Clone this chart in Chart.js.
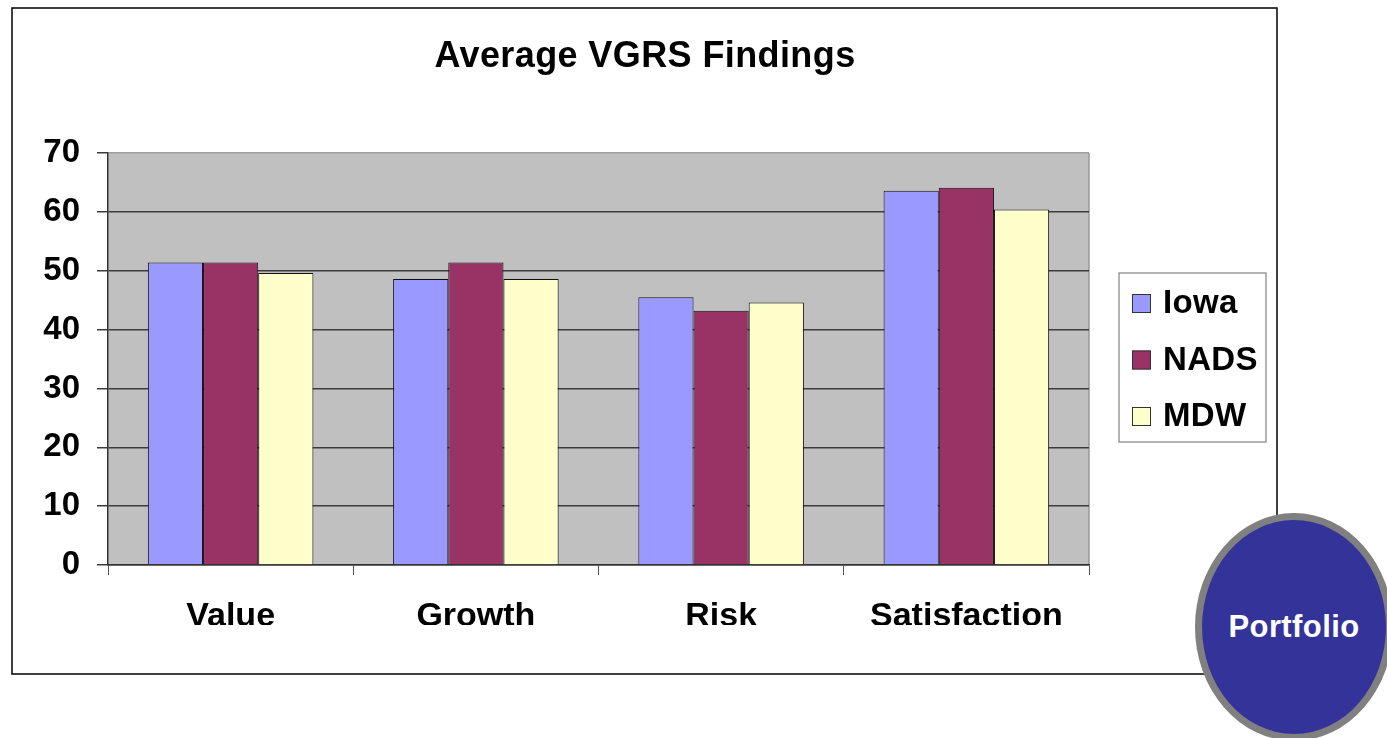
<!DOCTYPE html>
<html>
<head>
<meta charset="utf-8">
<title>Average VGRS Findings</title>
<script src="https://cdn.jsdelivr.net/npm/chart.js@4.4.1/dist/chart.umd.min.js"></script>
<style>
  html, body { margin: 0; padding: 0; background: #fff; }
  #wrap { position: relative; width: 1387px; height: 738px; overflow: hidden; }
  #chart { position: absolute; left: 0; top: 0; }
  #portfolio {
    position: absolute; left: 1195px; top: 513px; width: 198px; height: 228px;
    box-sizing: border-box; border: 7px solid #808080; border-radius: 50%;
    background: #333399; color: #fff;
    font: bold 31px "Liberation Sans", Arial, sans-serif; letter-spacing: 0.4px;
    display: flex; align-items: center; justify-content: center;
  }
</style>
</head>
<body>
<div id="wrap">
  <canvas id="chart" width="1387" height="738"></canvas>
  <div id="portfolio">Portfolio</div>
</div>
<script>
const categories = ["Value", "Growth", "Risk", "Satisfaction"];
const seriesNames = ["Iowa", "NADS", "MDW"];
const iowa = [51.4, 48.6, 45.5, 63.6];
const nads = [51.4, 51.4, 43.2, 64.1];
const mdw = [49.6, 48.6, 44.6, 60.4];
const yMin = 0, yMax = 70, yStep = 10;

const FONT = '"Liberation Sans", Arial, sans-serif';
const colors = ["#9999FF", "#993366", "#FFFFCC"];

// plot background, outer frame, title and legend box
const decor = {
  id: "decor",
  beforeDraw(chart) {
    const { ctx, chartArea: a } = chart;
    ctx.save();
    ctx.fillStyle = "#c0c0c0";
    ctx.fillRect(a.left, a.top, a.right - a.left, a.bottom - a.top);
    ctx.strokeStyle = "#999";
    ctx.lineWidth = 1.5;
    ctx.beginPath();
    ctx.moveTo(a.right, a.top);
    ctx.lineTo(a.right, a.bottom);
    ctx.stroke();
    ctx.restore();
  },
  afterDraw(chart) {
    const ctx = chart.ctx;
    ctx.save();
    // frame
    ctx.strokeStyle = "#000";
    ctx.lineWidth = 1.5;
    ctx.strokeRect(12, 8, 1265, 666);
    // title
    ctx.fillStyle = "#000";
    ctx.font = "bold 36px " + FONT;
    ctx.letterSpacing = "0.4px";
    ctx.textAlign = "center";
    ctx.textBaseline = "alphabetic";
    ctx.fillText("Average VGRS Findings", 645, 67);
    // legend
    ctx.fillStyle = "#fff";
    ctx.fillRect(1119, 273, 147, 169);
    ctx.strokeStyle = "#808080";
    ctx.lineWidth = 1.2;
    ctx.strokeRect(1119, 273, 147, 169);
    ctx.font = "bold 33px " + FONT;
    ctx.letterSpacing = "0.3px";
    ctx.textAlign = "left";
    chart.data.datasets.forEach((ds, i) => {
      const y = 294 + i * 56.5;
      ctx.fillStyle = ds.backgroundColor;
      ctx.fillRect(1132, y, 19, 19);
      ctx.strokeStyle = "#333";
      ctx.lineWidth = 1;
      ctx.strokeRect(1132.5, y + 0.5, 18, 18);
      ctx.fillStyle = "#000";
      ctx.fillText(ds.label, 1163, y + 19);
    });
    ctx.restore();
  }
};

new Chart(document.getElementById("chart"), {
  type: "bar",
  data: {
    labels: categories,
    datasets: [iowa, nads, mdw].map((d, i) => ({
      label: seriesNames[i],
      data: d,
      backgroundColor: colors[i],
      borderColor: "#111",
      borderWidth: 1,
      barPercentage: 1,
      categoryPercentage: 0.675
    }))
  },
  options: {
    responsive: false,
    animation: false,
    layout: { padding: { left: 12, top: 153, right: 298, bottom: 113 } },
    plugins: {
      legend: { display: false },
      title: { display: false },
      tooltip: { enabled: false }
    },
    scales: {
      x: {
        grid: {
          display: true,
          drawOnChartArea: false,
          drawTicks: true,
          tickLength: 10,
          color: "#555",
          offset: true
        },
        border: { display: true, color: "#333", width: 1.5 },
        ticks: {
          color: "#000",
          font: { family: FONT, size: 34, weight: "bold" },
          padding: 21
        },
        afterFit: (axis) => { axis.height = 60; }
      },
      y: {
        min: yMin,
        max: yMax,
        ticks: {
          stepSize: yStep,
          color: "#000",
          font: { family: FONT, size: 33, weight: "bold" },
          padding: 17
        },
        grid: {
          color: (c) => (c.tick && c.tick.value === yMax ? "#a0a0a0" : "#3c3c3c"),
          tickColor: "#3c3c3c",
          lineWidth: 1.5,
          tickLength: 11
        },
        border: { color: "#333", width: 1.5 },
        afterFit: (axis) => { axis.width = 96; }
      }
    }
  },
  plugins: [decor]
});
</script>
</body>
</html>
